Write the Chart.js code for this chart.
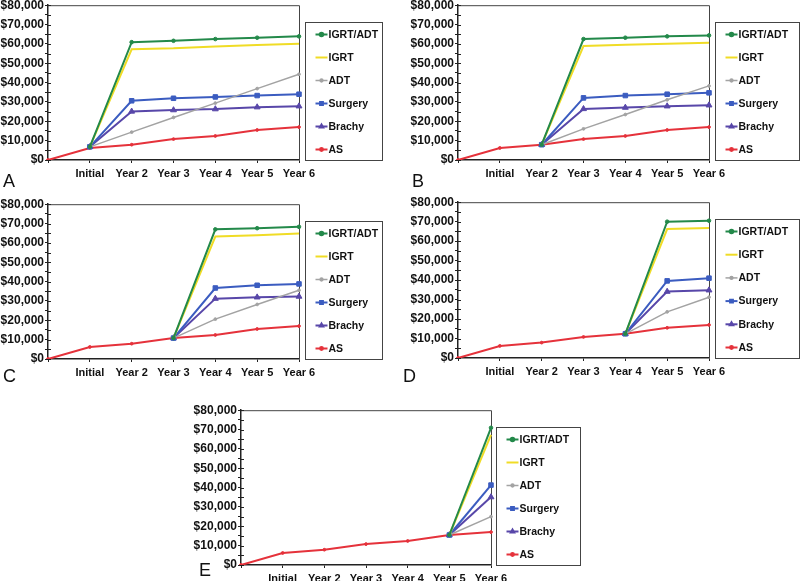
<!DOCTYPE html>
<html>
<head>
<meta charset="utf-8">
<script src="https://cdn.jsdelivr.net/npm/chart.js@4.4.1/dist/chart.umd.min.js"></script>
<style>
  html, body { margin: 0; padding: 0; background: #fff; width: 800px; height: 581px; overflow: hidden; position: relative; }
  canvas { position: absolute; }
  .plabel { position: absolute; font-family: "Liberation Sans", Arial, Helvetica, sans-serif; font-size: 18px; line-height: 1; color: #111; }
</style>
</head>
<body>
<script>
// ---------------- DATA ----------------
const categories = ['', 'Initial', 'Year 2', 'Year 3', 'Year 4', 'Year 5', 'Year 6'];
const seriesNames = ['IGRT/ADT', 'IGRT', 'ADT', 'Surgery', 'Brachy', 'AS'];
const yTickLabels = ['$0', '$10,000', '$20,000', '$30,000', '$40,000', '$50,000', '$60,000', '$70,000', '$80,000'];
const panelLetters = ['A', 'B', 'C', 'D', 'E'];

// Active surveillance (same in every panel)
const asCost = [0, 6200, 7900, 10800, 12400, 15500, 17000];

// Panel A: treatment at Initial
const aIgrtAdt = [null, 6800, 60900, 61600, 62500, 63200, 63900];
const aIgrt    = [null, 6800, 57200, 57700, 58700, 59400, 60100];
const aAdt     = [null, 6800, 14400, 22000, 29400, 36900, 44300];
const aSurgery = [null, 6800, 30600, 31900, 32600, 33300, 34000];
const aBrachy  = [null, 6800, 25100, 25800, 26300, 27300, 27800];

// Panel B: treatment at Year 2
const bIgrtAdt = [null, null, 7900, 62500, 63200, 63900, 64400];
const bIgrt    = [null, null, 7900, 58900, 59600, 60100, 60600];
const bAdt     = [null, null, 7900, 16100, 23500, 31100, 38300];
const bSurgery = [null, null, 7900, 32100, 33300, 34000, 34700];
const bBrachy  = [null, null, 7900, 26400, 27100, 27800, 28300];

// Panel C: treatment at Year 3
const cIgrtAdt = [null, null, null, 10800, 67000, 67600, 68300];
const cIgrt    = [null, null, null, 10800, 63300, 64000, 64900];
const cAdt     = [null, null, null, 10800, 20600, 28200, 35500];
const cSurgery = [null, null, null, 10800, 36700, 38100, 38800];
const cBrachy  = [null, null, null, 10800, 31200, 31900, 32300];

// Panel D: treatment at Year 4
const dIgrtAdt = [null, null, null, null, 12400, 70000, 70500];
const dIgrt    = [null, null, null, null, 12400, 66200, 66700];
const dAdt     = [null, null, null, null, 12400, 23700, 31200];
const dSurgery = [null, null, null, null, 12400, 39600, 41000];
const dBrachy  = [null, null, null, null, 12400, 34100, 34800];

// Panel E: treatment at Year 5
const eIgrtAdt = [null, null, null, null, null, 15500, 70900];
const eIgrt    = [null, null, null, null, null, 15500, 67200];
const eAdt     = [null, null, null, null, null, 15500, 25000];
const eSurgery = [null, null, null, null, null, 15500, 41300];
const eBrachy  = [null, null, null, null, null, 15500, 35100];

// ---------------- STYLE / LAYOUT ----------------
const FONT = '"Liberation Sans", Arial, Helvetica, sans-serif';
Chart.defaults.font.family = FONT;

const styles = [
  { color: '#23894a', pointStyle: 'circle',   radius: 1.8, width: 2 },
  { color: '#f0dc26', pointStyle: 'line',     radius: 0,   width: 2 },
  { color: '#a3a3a3', pointStyle: 'circle',   radius: 1.4, width: 1.5 },
  { color: '#3b5cc0', pointStyle: 'rect',     radius: 3.2, width: 2 },
  { color: '#5847a9', pointStyle: 'triangle', radius: 3.4, width: 2 },
  { color: '#e5323b', pointStyle: 'circle',   radius: 1.4, width: 2 }
];

const panels = [
  { series: [aIgrtAdt, aIgrt, aAdt, aSurgery, aBrachy, asCost], plot: { l: 48,  t: 5,   r: 299, b: 160 }, legend: { gap: 6, w: 77 }, letter: { x: 3,   y: 172 } },
  { series: [bIgrtAdt, bIgrt, bAdt, bSurgery, bBrachy, asCost], plot: { l: 458, t: 5,   r: 709, b: 160 }, legend: { gap: 6, w: 84 }, letter: { x: 412, y: 172 } },
  { series: [cIgrtAdt, cIgrt, cAdt, cSurgery, cBrachy, asCost], plot: { l: 48,  t: 204, r: 299, b: 359 }, legend: { gap: 6, w: 77 }, letter: { x: 3,   y: 367 } },
  { series: [dIgrtAdt, dIgrt, dAdt, dSurgery, dBrachy, asCost], plot: { l: 458, t: 202, r: 709, b: 358 }, legend: { gap: 6, w: 84 }, letter: { x: 403, y: 367 } },
  { series: [eIgrtAdt, eIgrt, eAdt, eSurgery, eBrachy, asCost], plot: { l: 241, t: 410, r: 491, b: 565 }, legend: { gap: 5, w: 84 }, letter: { x: 199, y: 561 } }
];

const Y_W = 48, PAD_T = 8, PAD_R = 100, X_H = 22;

// plot frame (top & right) + crossing ticks on the y axis
const framePlugin = {
  id: 'frame',
  beforeDatasetsDraw(chart) {
    const { ctx, chartArea: a, scales } = chart;
    ctx.save();
    ctx.strokeStyle = '#444';
    ctx.lineWidth = 1;
    ctx.beginPath();
    ctx.moveTo(a.left, a.top + 0.5);
    ctx.lineTo(a.right + 0.5, a.top + 0.5);
    ctx.lineTo(a.right + 0.5, a.bottom);
    ctx.stroke();
    ctx.strokeStyle = '#222';
    ctx.beginPath();
    scales.y.ticks.forEach(t => {
      const py = Math.round(scales.y.getPixelForValue(t.value)) + 0.5;
      ctx.moveTo(a.left, py);
      ctx.lineTo(a.left + 3, py);
    });
    ctx.stroke();
    ctx.restore();
  }
};

// boxed legend at the right of the plot
const boxLegendPlugin = {
  id: 'boxLegend',
  afterDraw(chart, args, opts) {
    const { ctx, chartArea: a } = chart;
    const left = Math.round(a.right + opts.gap) + 0.5;
    const top = Math.round(a.top + 17) + 0.5;
    const bottom = Math.round(a.bottom) + 0.5;
    const h = bottom - top;
    ctx.save();
    ctx.strokeStyle = '#444';
    ctx.lineWidth = 1;
    ctx.strokeRect(left, top, opts.w, h);
    const ds = chart.data.datasets;
    const step = (h - 23) / (ds.length - 1);
    ctx.font = 'bold 10.5px ' + FONT;
    ctx.textBaseline = 'middle';
    ds.forEach((d, i) => {
      const y = top + 12 + i * step;
      ctx.strokeStyle = d.borderColor;
      ctx.lineWidth = d.borderWidth;
      ctx.beginPath();
      ctx.moveTo(left + 10, y);
      ctx.lineTo(left + 22, y);
      ctx.stroke();
      if (d.pointRadius > 0) {
        ctx.fillStyle = d.borderColor;
        ctx.strokeStyle = d.borderColor;
        Chart.helpers.drawPoint(ctx, { pointStyle: d.pointStyle, radius: Math.min(d.pointRadius, 2), rotation: 0, borderWidth: 1 }, left + 16, y);
      }
      ctx.fillStyle = '#111';
      ctx.fillText(seriesNames[i], left + 23, y + 0.5);
    });
    ctx.restore();
  }
};

panels.forEach((p, idx) => {
  const cv = document.createElement('canvas');
  const w = (p.plot.r - p.plot.l) + Y_W + PAD_R;
  const h = (p.plot.b - p.plot.t) + PAD_T + X_H;
  cv.width = w; cv.height = h;
  cv.style.width = w + 'px'; cv.style.height = h + 'px';
  cv.style.left = (p.plot.l - Y_W) + 'px';
  cv.style.top = (p.plot.t - PAD_T) + 'px';
  document.body.appendChild(cv);

  const lab = document.createElement('div');
  lab.className = 'plabel';
  lab.textContent = panelLetters[idx];
  lab.style.left = p.letter.x + 'px';
  lab.style.top = p.letter.y + 'px';
  document.body.appendChild(lab);

  const datasets = p.series.map((vals, i) => ({
    label: seriesNames[i],
    data: vals,
    borderColor: styles[i].color,
    backgroundColor: styles[i].color,
    borderWidth: styles[i].width,
    pointStyle: styles[i].pointStyle,
    pointRadius: styles[i].radius,
    pointBorderWidth: 1,
    pointBackgroundColor: styles[i].color,
    tension: 0,
    spanGaps: false
  }));

  new Chart(cv, {
    type: 'line',
    data: { labels: categories, datasets },
    plugins: [framePlugin, boxLegendPlugin],
    options: {
      responsive: false,
      animation: false,
      events: [],
      layout: { padding: { left: 0, top: PAD_T, right: PAD_R, bottom: 0 } },
      plugins: {
        legend: { display: false },
        tooltip: { enabled: false },
        boxLegend: { gap: p.legend.gap, w: p.legend.w }
      },
      scales: {
        x: {
          type: 'category',
          offset: false,
          afterFit(s) { s.height = X_H; },
          grid: { display: true, drawOnChartArea: false, drawTicks: true, tickLength: 3, color: '#222' },
          border: { display: true, color: '#222', width: 1.5 },
          ticks: { color: '#111', font: { size: 11, weight: 'bold' }, padding: 4, maxRotation: 0, autoSkip: false }
        },
        y: {
          min: 0, max: 80000,
          afterFit(s) { s.width = Y_W; },
          grid: { display: true, drawOnChartArea: false, drawTicks: true, tickLength: 3, color: '#222' },
          border: { display: true, color: '#222', width: 1.5 },
          ticks: {
            stepSize: 5000,
            autoSkip: false,
            color: '#111',
            padding: 1,
            font: { size: 12, weight: 'bold' },
            callback: v => (v % 10000 === 0 ? yTickLabels[v / 10000] : '')
          }
        }
      }
    }
  });
});
</script>
</body>
</html>
